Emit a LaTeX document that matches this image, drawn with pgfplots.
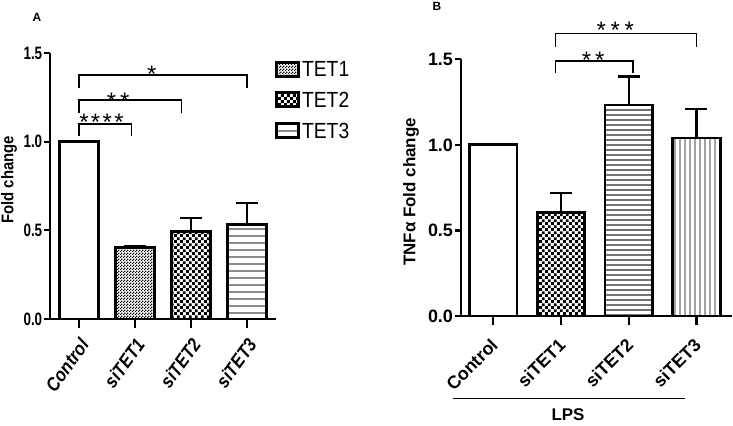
\documentclass[border=0pt]{standalone}
\usepackage{pgfplots}
\pgfplotsset{compat=1.18}
\usetikzlibrary{patterns.meta}
\usepackage{fontspec}
\setmainfont{Liberation Sans}
\newfontfamily\narrowfont{Liberation Sans}[FakeStretch=0.75]
\newfontfamily\legfont{Liberation Sans}[FakeStretch=0.88]

\tikzdeclarepattern{name=finechecker, type=uncolored,
  bounding box={(0,0) and (3bp,3bp)}, tile size={(3bp,3bp)},
  code={\fill (0,0) rectangle (1.5bp,1.5bp); \fill (1.5bp,1.5bp) rectangle (3bp,3bp);}}
\tikzdeclarepattern{name=checker, type=uncolored,
  bounding box={(0,0) and (5.8bp,5.8bp)}, tile size={(5.8bp,5.8bp)},
  code={\fill (0,0) rectangle (2.9bp,2.9bp); \fill (2.9bp,2.9bp) rectangle (5.8bp,5.8bp);}}
\tikzdeclarepattern{name=hlinesA, type=uncolored,
  bounding box={(0,-0.7bp) and (7bp,0.7bp)}, tile size={(7bp,7bp)},
  code={\draw[line width=1.3bp] (0,0) -- (7bp,0);}}
\tikzdeclarepattern{name=hlinesB, type=uncolored,
  bounding box={(0,-0.6bp) and (5bp,0.6bp)}, tile size={(5bp,5bp)},
  code={\draw[line width=1.1bp] (0,0) -- (5bp,0);}}
\tikzdeclarepattern{name=vlinesB, type=uncolored,
  bounding box={(-0.6bp,0) and (0.6bp,5bp)}, tile size={(5bp,5bp)},
  code={\draw[line width=1.1bp] (0,0) -- (0,5bp);}}

\tikzset{
  mybar/.style={draw=black, line width=2.8bp},
  stars/.style={anchor=base, yshift=-7bp, inner sep=0pt, font=\fontsize{24}{24}\selectfont},
  brk/.style={line width=1.6bp},
}
\pgfplotsset{
  panel/.style={
    scale only axis, anchor=south west,
    ymin=0, ymax=1.5, clip=false,
    axis x line*=bottom, axis y line*=left,
    axis line style={line width=2.3bp},
    ytick={0,0.5,1,1.5}, xtick={0,1,2,3},
    tick align=outside,
    major tick style={line width=2.3bp, black},
    xtick style={/pgfplots/major tick length=9bp},
    ytick style={/pgfplots/major tick length=6bp},
    /pgf/number format/assume math mode=true,
    /pgf/number format/fixed, /pgf/number format/fixed zerofill, /pgf/number format/precision=1,
    ybar, bar shift=0pt, bar width=0.7,
    error bars/error bar style={line width=2.4bp, black, solid},
    error bars/error mark options={line width=2.4bp, black, mark size=11bp, rotate=90},
  },
}

\begin{document}
\begin{tikzpicture}[x=1bp,y=1bp]
% ---------------- Panel A ----------------
\begin{axis}[panel,
  at={(50bp,106bp)}, width=226bp, height=266bp,
  xmin=-0.52, xmax=3.52,
  xticklabels={Control,siTET1,siTET2,siTET3},
  yticklabel style={font=\narrowfont\bfseries\fontsize{18}{18}\selectfont},
  xticklabel style={font=\legfont\bfseries\itshape\fontsize{19}{19}\selectfont, xshift=6bp, yshift=-17bp, rotate=54, anchor=east, inner sep=1bp},
  ylabel={Fold change},
  ylabel style={font=\legfont\bfseries\fontsize{17}{17}\selectfont, at={(rel axis cs:-0.181,0.523)}, anchor=center, rotate=0},
  legend style={at={(rel axis cs:0.996,0.975)}, anchor=north west, draw=none, fill=none,
    font=\legfont\fontsize{22}{22}\selectfont, inner sep=0pt, row sep=10bp,
    /tikz/every even column/.append style={column sep=10bp}},
  legend cell align=left,
  legend image code/.code={\draw[#1, line width=2.8bp] (0bp,-6bp) rectangle (22bp,8bp);},
]
\addplot[mybar, fill=white, forget plot] coordinates {(0,1.0)};
\addplot[mybar, pattern=finechecker, pattern color=black,
  error bars/.cd, y dir=plus, y explicit] coordinates {(1,0.405) +- (0,0.005)};
\addlegendentry{TET1}
\addplot[mybar, pattern=checker, pattern color=black,
  error bars/.cd, y dir=plus, y explicit] coordinates {(2,0.494) +- (0,0.076)};
\addlegendentry{TET2}
\addplot[mybar, pattern=hlinesA, pattern color=black!45,
  error bars/.cd, y dir=plus, y explicit] coordinates {(3,0.535) +- (0,0.120)};
\addlegendentry{TET3}
\draw[brk] (axis cs:0,1.03) -- (axis cs:0,1.10) -- (axis cs:0.94,1.10) -- (axis cs:0.94,1.03);
\draw[brk] (axis cs:0,1.16) -- (axis cs:0,1.234) -- (axis cs:1.83,1.234) -- (axis cs:1.83,1.16);
\draw[brk] (axis cs:0,1.30) -- (axis cs:0,1.376) -- (axis cs:3,1.376) -- (axis cs:3,1.30);
\node[stars] at (axis cs:0.40,1.10) {*\hspace{2.4bp}*\hspace{2.4bp}*\hspace{2.4bp}*};
\node[stars, yshift=-2bp] at (axis cs:0.70,1.234) {*\hspace{4bp}*};
\node[stars, yshift=-1bp] at (axis cs:1.30,1.376) {*};
\end{axis}

% ---------------- Panel B ----------------
\begin{axis}[panel,
  at={(460.7bp,109bp)}, width=271bp, height=256.7bp,
  xmin=-0.48, xmax=3.52,
  xticklabels={Control,siTET1,siTET2,siTET3},
  yticklabel style={font=\bfseries\fontsize{18}{18}\selectfont},
  xticklabel style={font=\bfseries\fontsize{18}{18}\selectfont, xshift=2bp, yshift=-21bp, rotate=45, anchor=east, inner sep=1bp},
  ylabel={TNFα Fold change},
  ylabel style={font=\bfseries\fontsize{17}{17}\selectfont, at={(rel axis cs:-0.183,0.483)}, anchor=center, rotate=0},
]
\addplot[mybar, fill=white] coordinates {(0,1.0)};
\addplot[mybar, pattern=checker, pattern color=black,
  error bars/.cd, y dir=plus, y explicit] coordinates {(1,0.607) +- (0,0.113)};
\addplot[mybar, pattern=hlinesB, pattern color=black!55,
  error bars/.cd, y dir=plus, y explicit] coordinates {(2,1.233) +- (0,0.167)};
\addplot[mybar, pattern=vlinesB, pattern color=black!55,
  error bars/.cd, y dir=plus, y explicit] coordinates {(3,1.04) +- (0,0.17)};
\draw[brk] (axis cs:0.92,1.42) -- (axis cs:0.92,1.49) -- (axis cs:2.06,1.49) -- (axis cs:2.06,1.42);
\draw[brk] (axis cs:0.92,1.57) -- (axis cs:0.92,1.65) -- (axis cs:3,1.65) -- (axis cs:3,1.57);
\node[stars] at (axis cs:1.475,1.49) {*\hspace{4bp}*};
\node[stars, yshift=2bp] at (axis cs:1.80,1.65) {*\hspace{4.7bp}*\hspace{4.7bp}*};
\end{axis}

\draw[line width=1.6bp] (452.7,26.7) -- (685.3,26.7);
\node[font=\bfseries\fontsize{17}{17}\selectfont] at (568,10) {LPS};
\node[font=\bfseries\fontsize{12}{12}\selectfont] at (37,408) {A};
\node[font=\bfseries\fontsize{12}{12}\selectfont] at (437,419) {B};

\pgfresetboundingbox
\path[use as bounding box] (0,0) rectangle (733,425);
\end{tikzpicture}
\end{document}
